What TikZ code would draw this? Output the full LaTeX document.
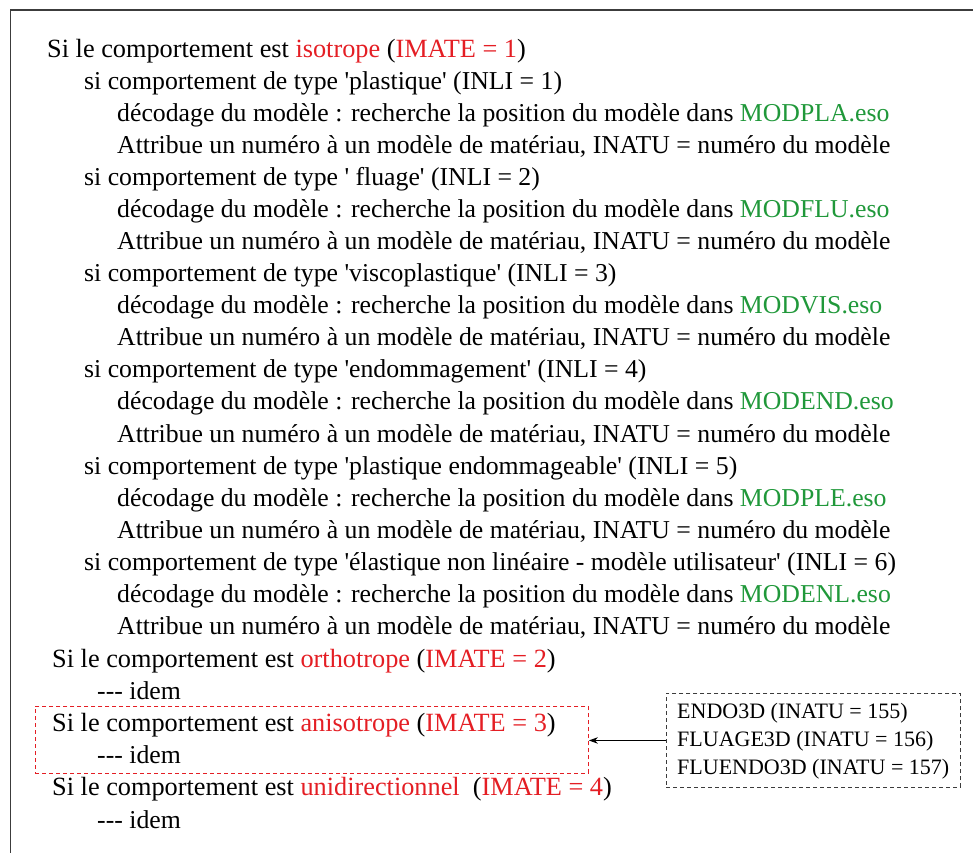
\documentclass[tikz,border=0pt]{standalone}
\usepackage{fontspec}
\setmainfont{Liberation Serif}[Ligatures=TeXOff]
\usetikzlibrary{arrows.meta}
\definecolor{tred}{RGB}{228,30,36}
\definecolor{tgreen}{RGB}{32,152,58}
\definecolor{frame}{RGB}{60,60,60}
\begin{document}
\begin{tikzpicture}[x=1pt,y=-1pt,
  txt/.style={anchor=base west,inner sep=0pt,font=\fontsize{25.75}{30}\selectfont},
  head/.style={anchor=base west,inner sep=0pt,font=\fontsize{26.3}{30}\selectfont},
  small/.style={anchor=base west,inner sep=0pt,font=\fontsize{22}{26}\selectfont},
  redbox/.style={draw=tred,dashed,dash pattern=on 4pt off 3pt,line width=0.9pt,inner sep=0pt},
  infobox/.style={draw=frame,dash pattern=on 4pt off 3pt,line width=0.9pt,inner sep=0pt},
  link/.style={-{Stealth[length=9pt,width=6.5pt]},line width=0.9pt}]
\useasboundingbox (0,0) rectangle (973,852);
\clip (0,0) rectangle (973,852);
\draw[frame,line width=1.3pt] (10.5,10) rectangle (1000,880);
\newcommand{\R}[1]{\textcolor{tred}{#1}}
\newcommand{\G}[1]{\textcolor{tgreen}{#1}}
\newcommand{\dec}{décodage du modèle : recherche la position du modèle dans }
\newcommand{\att}{Attribue un numéro à un modèle de matériau, INATU = numéro du modèle}
\node[head] (l1) at (47,57) {Si le comportement est \R{isotrope} (\R{IMATE = 1})};
\node[txt] (l2) at (84,89.1) {si comportement de type 'plastique' (INLI = 1)};
\node[txt] (l3) at (117,121.2) {\dec\G{MODPLA.eso}};
\node[txt] (l4) at (117,153.2) {\att};
\node[txt] (l5) at (84,185.3) {si comportement de type ' fluage' (INLI = 2)};
\node[txt] (l6) at (117,217.4) {\dec\G{MODFLU.eso}};
\node[txt] (l7) at (117,249.5) {\att};
\node[txt] (l8) at (84,281.6) {si comportement de type 'viscoplastique' (INLI = 3)};
\node[txt] (l9) at (117,313.6) {\dec\G{MODVIS.eso}};
\node[txt] (l10) at (117,345.7) {\att};
\node[txt] (l11) at (84,377.8) {si comportement de type 'endommagement' (INLI = 4)};
\node[txt] (l12) at (117,409.9) {\dec\G{MODEND.eso}};
\node[txt] (l13) at (117,442.0) {\att};
\node[txt] (l14) at (84,474.0) {si comportement de type 'plastique endommageable' (INLI = 5)};
\node[txt] (l15) at (117,506.1) {\dec\G{MODPLE.eso}};
\node[txt] (l16) at (117,538.2) {\att};
\node[txt] (l17) at (84,570.3) {si comportement de type 'élastique non linéaire - modèle utilisateur' (INLI = 6)};
\node[txt] (l18) at (117,602.4) {\dec\G{MODENL.eso}};
\node[txt] (l19) at (117,634.4) {\att};
\node[head] (l20) at (52,667) {Si le comportement est \R{orthotrope} (\R{IMATE = 2})};
\node[txt] (l21) at (97,699) {--- idem};
\node[head] (l22) at (52,731) {Si le comportement est \R{anisotrope} (\R{IMATE = 3})};
\node[txt] (l23) at (97,763.5) {--- idem};
\node[head] (l24) at (52,795.5) {Si le comportement est \R{unidirectionnel}\ \ (\R{IMATE = 4})};
\node[txt] (l25) at (97,828) {--- idem};
\node[redbox,anchor=north west,minimum width=553pt,minimum height=67pt] (anibox) at (35,706) {};
\node[infobox,anchor=north west,minimum width=294pt,minimum height=94pt] (info) at (666,693) {};
\node[small] (i1) at (677,718) {ENDO3D (INATU = 155)};
\node[small] (i2) at (677,746) {FLUAGE3D (INATU = 156)};
\node[small] (i3) at (677,774) {FLUENDO3D (INATU = 157)};
\draw[link] (info.west) -- (info.west -| anibox.east);
\end{tikzpicture}
\end{document}
